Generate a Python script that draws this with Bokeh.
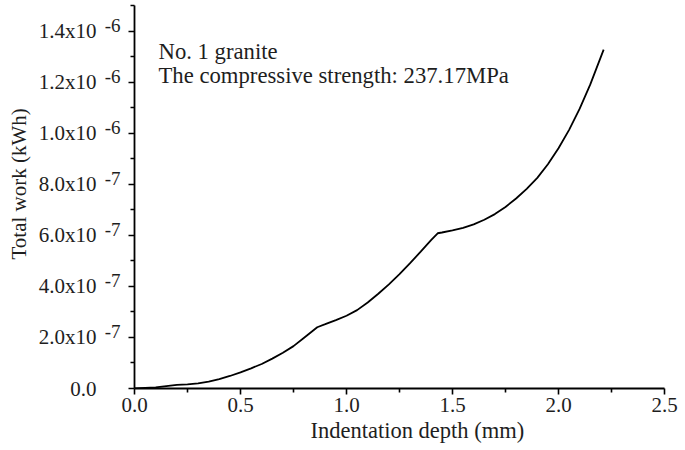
import numpy as np
from bokeh.plotting import figure
from bokeh.models import Range1d, FixedTicker, Label, LinearAxis, Title
from bokeh.embed import file_html
from bokeh.resources import INLINE

# ---- data ----
depth_mm = [0.00, 0.05, 0.10, 0.15, 0.20, 0.25, 0.30, 0.35, 0.40, 0.45,
            0.50, 0.55, 0.60, 0.65, 0.70, 0.75, 0.80, 0.862,
            0.90, 0.95, 1.00, 1.05, 1.10, 1.15, 1.20, 1.25, 1.30, 1.35, 1.40, 1.43,
            1.45, 1.50, 1.55, 1.60, 1.65, 1.70, 1.75, 1.80, 1.85, 1.90, 1.95,
            2.00, 2.05, 2.10, 2.15, 2.213]
work_1e6_kwh = [0.000, 0.002, 0.004, 0.009, 0.014, 0.016, 0.020, 0.027, 0.037, 0.049,
                0.063, 0.079, 0.096, 0.117, 0.140, 0.166, 0.199, 0.240,
                0.252, 0.268, 0.285, 0.307, 0.337, 0.371, 0.408, 0.448, 0.491, 0.536, 0.582, 0.608,
                0.611, 0.619, 0.629, 0.643, 0.661, 0.683, 0.711, 0.744, 0.782, 0.825, 0.878,
                0.941, 1.013, 1.096, 1.191, 1.327]

x_ticks = [0.0, 0.5, 1.0, 1.5, 2.0, 2.5]
x_minor = [0.25, 0.75, 1.25, 1.75, 2.25]
y_ticks = [0.0, 2e-7, 4e-7, 6e-7, 8e-7, 1e-6, 1.2e-6, 1.4e-6]
y_minor = [1e-7, 3e-7, 5e-7, 7e-7, 9e-7, 1.1e-6, 1.3e-6, 1.5e-6]
y_mantissa = ["0.0", "2.0x10", "4.0x10", "6.0x10", "8.0x10", "1.0x10", "1.2x10", "1.4x10"]
y_exponent = ["", "-7", "-7", "-7", "-7", "-6", "-6", "-6"]

annot_lines = ["No. 1 granite", "The compressive strength: 237.17MPa"]
x_title = "Indentation depth (mm)"
y_title = "Total work (kWh)"

FONT = "Liberation Serif"
TXT = "#1e1e1e"
Y_END = 1.5e-6
FRAME_H = 383
EXP_RAISE_PX = 6

y = np.array(work_1e6_kwh) * 1e-6

p = figure(width=685, height=450, output_backend="svg", toolbar_location=None,
           x_range=Range1d(0, 2.5), y_range=Range1d(0, Y_END),
           min_border_left=133, min_border_right=21, min_border_top=5,
           min_border_bottom=450 - 5 - FRAME_H)
p.outline_line_color = None
p.grid.visible = False
p.background_fill_color = "white"
p.border_fill_color = "white"

# shifted range used only to lift the exponent labels above their ticks
shift = EXP_RAISE_PX * Y_END / FRAME_H
p.extra_y_ranges = {"exp": Range1d(-shift, Y_END - shift)}

p.line(depth_mm, y, line_color="black", line_width=1.8)


def style_ticks(ax):
    ax.axis_line_color = "black"
    ax.axis_line_width = 1.8
    ax.major_tick_line_color = "black"
    ax.minor_tick_line_color = "black"
    ax.major_tick_line_width = 1.6
    ax.minor_tick_line_width = 1.6
    ax.major_tick_in = 0
    ax.major_tick_out = 6
    ax.minor_tick_in = 0
    ax.minor_tick_out = 4


def no_ticks(ax):
    ax.axis_line_color = None
    ax.major_tick_line_color = None
    ax.minor_tick_line_color = None
    ax.major_tick_in = 0
    ax.major_tick_out = 0
    ax.minor_tick_in = 0
    ax.minor_tick_out = 0


# x axis
xa = p.xaxis[0]
style_ticks(xa)
xa.ticker = FixedTicker(ticks=x_ticks, minor_ticks=x_minor)
xa.major_label_overrides = {t: f"{t:.1f}" for t in x_ticks}
xa.major_label_standoff = 3
xa.major_label_text_font = FONT
xa.major_label_text_font_size = "21px"
xa.major_label_text_color = TXT

# y axis A: line and ticks only (empty labels)
ya = p.yaxis[0]
style_ticks(ya)
ya.ticker = FixedTicker(ticks=y_ticks, minor_ticks=y_minor)
ya.major_label_overrides = {t: "" for t in y_ticks}
ya.major_label_text_font = FONT
ya.major_label_text_font_size = "21px"
ya.major_label_standoff = 0

# y axis B: exponents (raised)
yb = LinearAxis(y_range_name="exp", ticker=FixedTicker(ticks=y_ticks, minor_ticks=[]))
no_ticks(yb)
yb.major_label_overrides = {t: e for t, e in zip(y_ticks, y_exponent)}
yb.major_label_standoff = 8
yb.major_label_text_font = FONT
yb.major_label_text_font_size = "19px"
yb.major_label_text_color = TXT
p.add_layout(yb, "left")

# y axis C: mantissas
yc = LinearAxis(ticker=FixedTicker(ticks=y_ticks, minor_ticks=[]))
no_ticks(yc)
yc.major_label_overrides = dict(zip(y_ticks, y_mantissa))
yc.major_label_standoff = 5
yc.major_label_text_font = FONT
yc.major_label_text_font_size = "21px"
yc.major_label_text_color = TXT
p.add_layout(yc, "left")

# axis titles
p.add_layout(Title(text=x_title, align="left", offset=176, standoff=7, vertical_align="top",
                   text_font=FONT, text_font_size="22.5px", text_font_style="normal",
                   text_color=TXT), "below")
p.add_layout(Title(text=y_title, align="left", offset=129, standoff=9,
                   text_font=FONT, text_font_size="21px", text_font_style="normal",
                   text_color=TXT), "left")

# annotation
for i, line in enumerate(annot_lines):
    p.add_layout(Label(x=0, y=1.4e-6, x_offset=24, y_offset=-20 - 24 * i, text=line,
                       text_font=FONT, text_font_size="22.7px", text_color=TXT,
                       text_align="left", text_baseline="alphabetic"))

open("out.html", "w").write(file_html(p, INLINE))
